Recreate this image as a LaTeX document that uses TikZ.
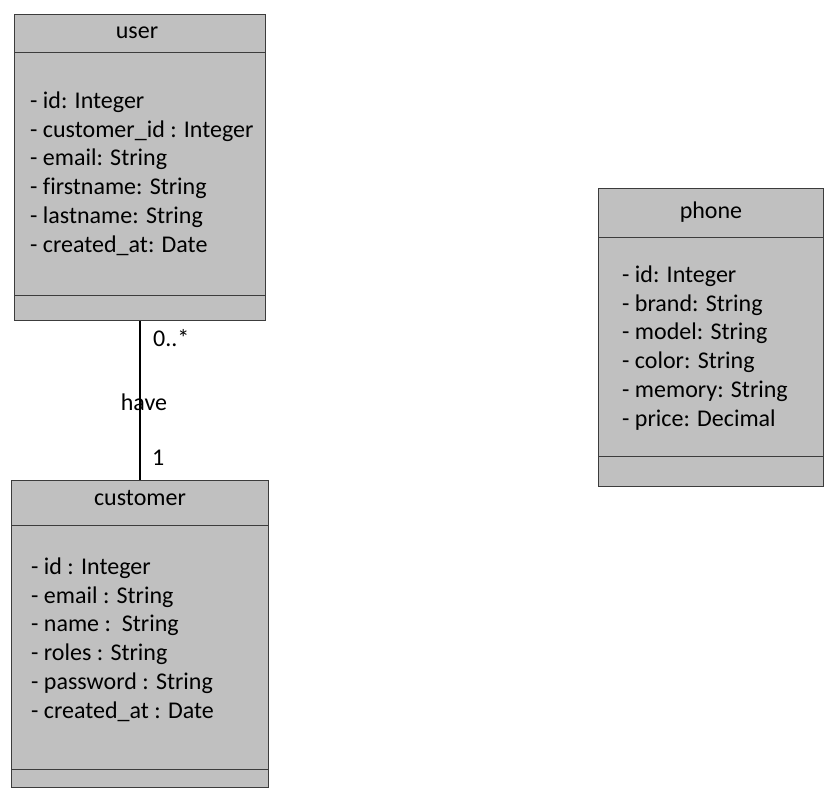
\documentclass[tikz,border=0pt]{standalone}
\usepackage{fontspec}
\setmainfont{Carlito}[Ligatures=NoCommon]
\usetikzlibrary{calc}
\definecolor{boxgray}{RGB}{192,192,192}
\definecolor{boxline}{RGB}{60,60,60}
\tikzset{
    classbox/.style={draw=boxline, line width=1pt, fill=boxgray, anchor=north west, inner sep=0pt},
    attrs/.style={align=left, anchor=north west, inner sep=0pt, font=\fontsize{24}{28.8}\selectfont},
    title/.style={inner sep=0pt, anchor=base, font=\fontsize{24}{26}\selectfont},
    lbl/.style={inner sep=0pt, font=\fontsize{24}{26}\selectfont},
}
\begin{document}
\begin{tikzpicture}[x=1pt, y=-1pt]
    \useasboundingbox (0,0) rectangle (834,798);

    % user
    \node[classbox, minimum width=251pt, minimum height=306pt] (user) at (14,14){};
    \draw[boxline, line width=1pt] ($(user.north west)+(0,38)$) -- ($(user.north east)+(0,38)$);
    \draw[boxline, line width=1pt] ($(user.south west)+(0,-26)$) -- ($(user.south east)+(0,-26)$);
    \node[title] (userT) at (137,38){user};
    \node[attrs] (userA) at (30,91.5){- id: Integer\\- customer\_id : Integer\\- email: String\\- firstname: String\\- lastname: String\\- created\_at: Date};

    % phone
    \node[classbox, minimum width=225pt, minimum height=298pt] (phone) at (598,188){};
    \draw[boxline, line width=1pt] ($(phone.north west)+(0,49)$) -- ($(phone.north east)+(0,49)$);
    \draw[boxline, line width=1pt] ($(phone.south west)+(0,-31)$) -- ($(phone.south east)+(0,-31)$);
    \node[title] (phoneT) at (711,218){phone};
    \node[attrs] (phoneA) at (622,265.5){- id: Integer\\- brand: String\\- model: String\\- color: String\\- memory: String\\- price: Decimal};

    % customer
    \node[classbox, minimum width=257pt, minimum height=307pt] (customer) at (11,480){};
    \draw[boxline, line width=1pt] ($(customer.north west)+(0,45)$) -- ($(customer.north east)+(0,45)$);
    \draw[boxline, line width=1pt] ($(customer.south west)+(0,-19)$) -- ($(customer.south east)+(0,-19)$);
    \node[title] (customerT) at (140,505){customer};
    \node[attrs] (customerA) at (31,557.5){- id : Integer\\- email : String\\- name :\ \ String\\- roles : String\\- password : String\\- created\_at : Date};

    % association
    \draw[line width=1.8pt] (user.south) -- (customer.north);
    \node[lbl, anchor=west] (mult0) at (153,338){0..*};
    \node[lbl] (assoc) at (144,402){have};
    \node[lbl, anchor=west] (mult1) at (152,458){1};
\end{tikzpicture}
\end{document}
